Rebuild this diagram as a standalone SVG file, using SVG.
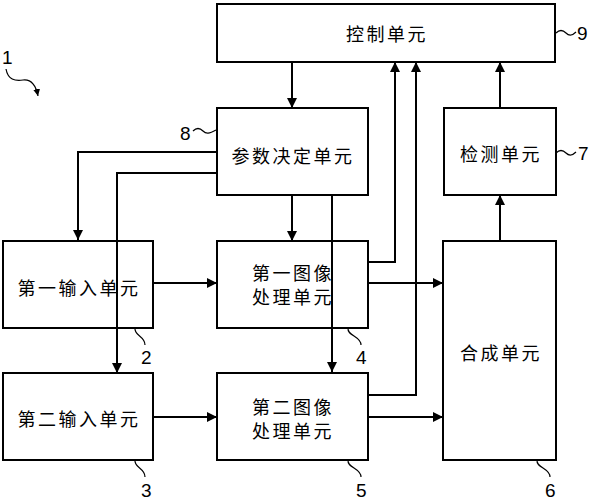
<svg xmlns="http://www.w3.org/2000/svg" width="595" height="500" viewBox="0 0 595 500">
<defs>
<marker id="ah" viewBox="0 0 10 10" refX="10" refY="5" markerWidth="10" markerHeight="10" markerUnits="userSpaceOnUse" orient="auto">
<path d="M0,0 L10,5 L0,10 z" fill="#000"/>
</marker>
<marker id="ahs" viewBox="0 0 10 10" refX="10" refY="5" markerWidth="7" markerHeight="7" markerUnits="userSpaceOnUse" orient="auto">
<path d="M0,0 L10,5 L0,10 z" fill="#000"/>
</marker>
</defs>
<style>
.box{fill:none;stroke:#000;stroke-width:2}
.t{font-family:"Noto Sans CJK SC","Noto Sans CJK JP",sans-serif;font-size:18px;letter-spacing:2.5px;text-anchor:middle;dominant-baseline:central;fill:#000}
.n{font-family:"Liberation Sans","DejaVu Sans",sans-serif;font-size:19px;fill:#000}
.c{fill:none;stroke:#000;stroke-width:2}
.a{marker-end:url(#ah)}
.s{fill:none;stroke:#000;stroke-width:1.2}
</style>
<rect width="595" height="500" fill="#fff"/>
<g id="connectors">
<path class="c a" d="M292,62 V108"/>
<path class="c a" d="M217,152 H78 V240"/>
<path class="c a" d="M217,173 H117 V373"/>
<path class="c a" d="M292,195 V241"/>
<path class="c a" d="M332,195 V372"/>
<path class="c a" d="M153,283 H217"/>
<path class="c a" d="M153,417 H217"/>
<path class="c a" d="M368,262 H395 V62"/>
<path class="c a" d="M368,395 H416 V62"/>
<path class="c a" d="M368,283 H443"/>
<path class="c a" d="M368,417 H443"/>
<path class="c a" d="M500,241 V195"/>
<path class="c a" d="M500,108 V62"/>
</g>
<g id="node9"><rect class="box" x="217" y="4" width="338" height="58"/><text class="t" x="387" y="33">控制单元</text></g>
<g id="node8"><rect class="box" x="217" y="108" width="151" height="87"/><text class="t" x="293" y="155">参数决定单元</text></g>
<g id="node7"><rect class="box" x="444" y="108" width="112" height="87"/><text class="t" x="501" y="153">检测单元</text></g>
<g id="node2"><rect class="box" x="3" y="241" width="150" height="87"/><text class="t" x="79" y="287">第一输入单元</text></g>
<g id="node3"><rect class="box" x="3" y="373" width="150" height="87"/><text class="t" x="79" y="418">第二输入单元</text></g>
<g id="node4"><rect class="box" x="217" y="241" width="151" height="87"/><text class="t" x="293" y="272">第一图像</text><text class="t" x="293" y="296">处理单元</text></g>
<g id="node5"><rect class="box" x="217" y="373" width="151" height="87"/><text class="t" x="293" y="406">第二图像</text><text class="t" x="293" y="430">处理单元</text></g>
<g id="node6"><rect class="box" x="443" y="241" width="113" height="219"/><text class="t" x="501" y="352">合成单元</text></g>
<g id="labels">
<text class="n" x="2" y="64">1</text>
<path class="s" d="M6,69 C8,80 15,81 23,80 C31,79 36,86 38,96" style="marker-end:url(#ahs)"/>
<path class="s" d="M556,33 C560,29 563,30 566,33 C569,36 572,36 576,32"/>
<text class="n" x="577" y="40">9</text>
<path class="s" d="M193,131 C197,127 200,128 203,131 C206,134 209,134 216,130"/>
<text class="n" x="180" y="140">8</text>
<path class="s" d="M556,153 C560,149 563,150 566,153 C569,156 572,156 576,152"/>
<text class="n" x="578" y="160">7</text>
<path class="s" d="M135,328 C134,336 145,336 145,345"/>
<text class="n" x="141" y="364">2</text>
<path class="s" d="M135,460 C134,468 145,468 145,477"/>
<text class="n" x="141" y="497">3</text>
<path class="s" d="M348,328 C347,336 361,336 361,345"/>
<text class="n" x="356" y="364">4</text>
<path class="s" d="M348,460 C347,468 361,468 361,477"/>
<text class="n" x="356" y="497">5</text>
<path class="s" d="M537,460 C536,468 550,468 550,477"/>
<text class="n" x="545" y="497">6</text>
</g>
</svg>
